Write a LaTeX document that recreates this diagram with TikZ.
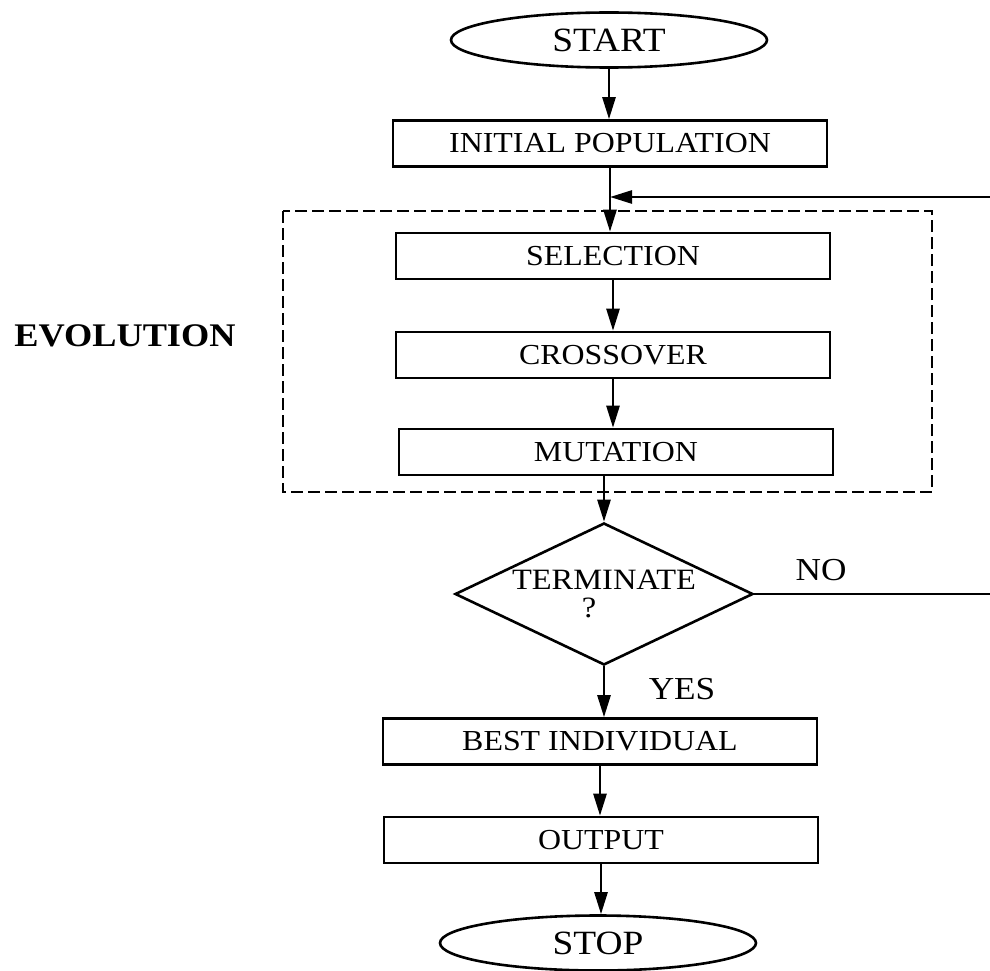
\documentclass[tikz,border=0pt]{standalone}
\usepackage{fontspec}
\setmainfont[FakeStretch=1.1]{Liberation Serif}
\usetikzlibrary{shapes.geometric,arrows.meta}

\begin{document}
\begin{tikzpicture}[x=1pt,y=-1pt,line width=2.6pt,
  box/.style={draw,shape=rectangle,minimum width=434pt,minimum height=46pt,inner sep=0pt,font=\fontsize{29}{30}\selectfont},
  terminal/.style={draw,shape=ellipse,minimum width=316pt,minimum height=55pt,inner sep=0pt,font=\fontsize{34}{34}\selectfont},
  decision/.style={draw,shape=diamond,aspect=2.1,inner sep=0pt,minimum width=298pt,minimum height=142pt,align=center,font=\fontsize{29.5}{28}\selectfont},
  label/.style={font=\fontsize{32}{32}\selectfont},
  flow/.style={-{Triangle[length=22pt,width=13pt]}}]

  \useasboundingbox (0,0) rectangle (990,971);

  \node[terminal](start) at (609,40){START};
  \node[box](ip) at (610,143.5){INITIAL POPULATION};
  \node[box](se) at (613,256){SELECTION};
  \node[box](cr) at (613,355){CROSSOVER};
  \node[box](mu) at (616,452){MUTATION};
  \node[decision](te) at (604,594){TERMINATE\\\hspace*{-30pt}?};
  \node[box](bi) at (600,741.5){BEST INDIVIDUAL};
  \node[box](ou) at (601,840){OUTPUT};
  \node[terminal](stop) at (598,943){STOP};

  \draw[dashed,dash pattern=on 12pt off 5pt] (283,211) rectangle (932,492);
  \node[label,font=\bfseries\fontsize{33}{33}\selectfont](evo) at (125,336){EVOLUTION};
  \node[label](no) at (821,570){NO};
  \node[label](yes) at (682,689){YES};

  \coordinate (back) at (990,197);
  \coordinate (join) at (back -| ip.south);

  \draw[flow] (start) -- (start |- ip.north);
  \draw[flow] (ip.south) -- (ip.south |- se.north);
  \draw[flow] (back) -- (join);
  \draw[flow] (se.south) -- (se.south |- cr.north);
  \draw[flow] (cr.south) -- (cr.south |- mu.north);
  \draw[flow] (mu.south -| te.north) -- (te.north);
  \draw (te.east) -- (te.east -| back);
  \draw[flow] (te.south) -- (te.south |- bi.north);
  \draw[flow] (bi.south) -- (bi.south |- ou.north);
  \draw[flow] (ou.south) -- (ou.south |- stop.north);

\end{tikzpicture}
\end{document}
